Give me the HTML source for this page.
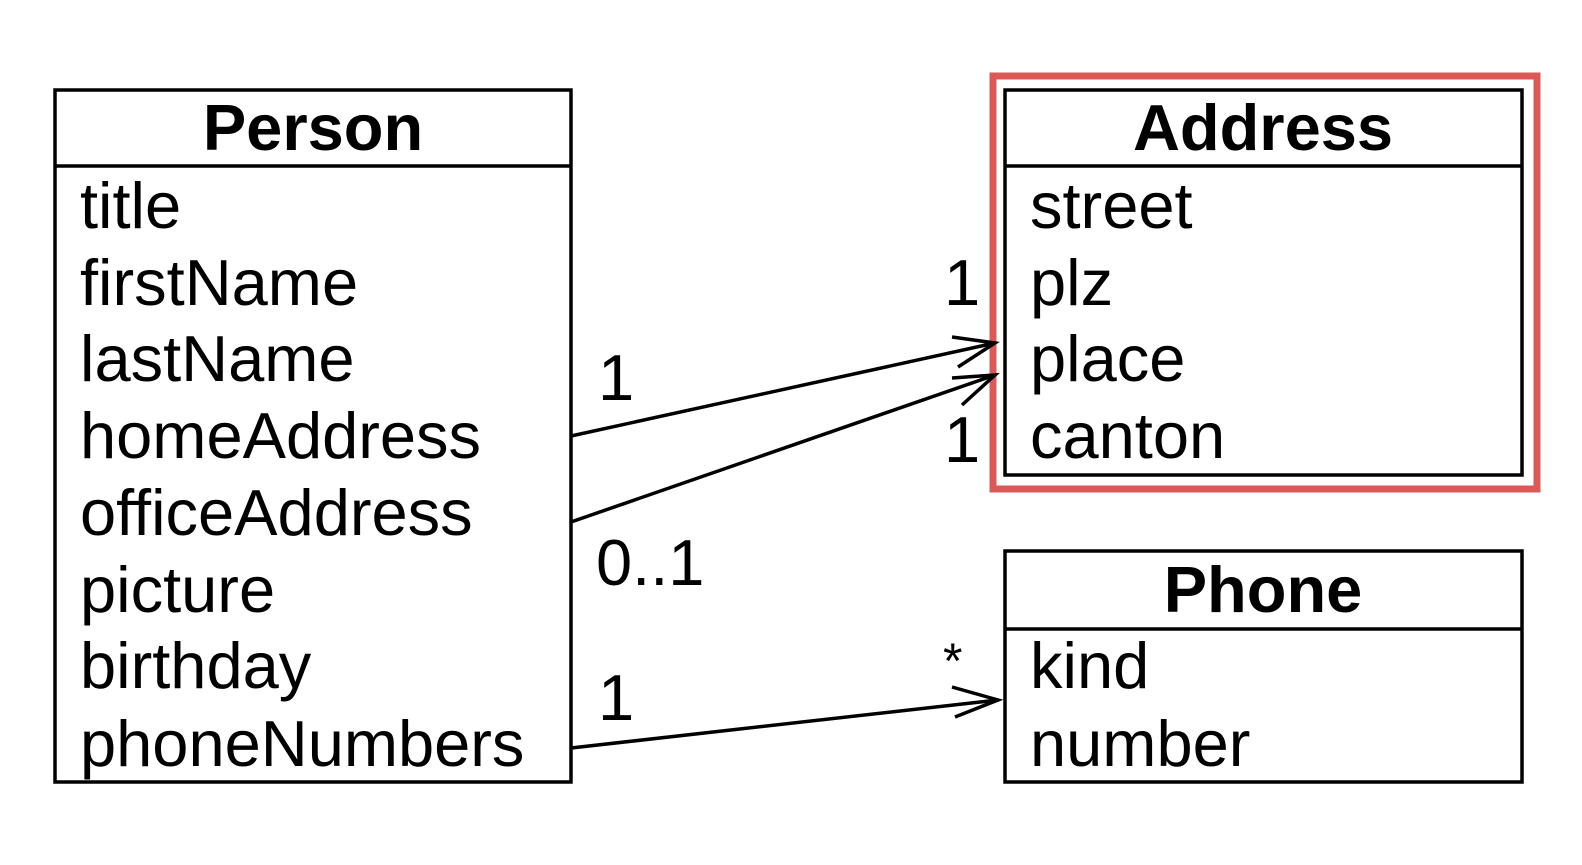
<!DOCTYPE html>
<html><head><meta charset="utf-8"><style>
html,body{margin:0;padding:0;background:#fff}
svg{display:block}
text{font-family:"Liberation Sans",Arial,sans-serif;font-size:65px;fill:#000}
.b{font-weight:bold;text-anchor:middle}
</style></head><body>
<svg width="1582" height="865" viewBox="0 0 1582 865">
<rect x="0" y="0" width="1582" height="865" fill="#fff"/>
<rect x="993" y="76" width="544" height="413" fill="none" stroke="#db5a55" stroke-width="7"/>
<g fill="none" stroke="#000" stroke-width="3.5">
<rect x="55" y="90" width="516" height="692"/><line x1="55" y1="166" x2="571" y2="166"/>
</g>
<text class="b" x="313" y="150">Person</text>
<g>
<text x="80" y="228">title</text><text x="80" y="305">firstName</text><text x="80" y="381">lastName</text>
<text x="80" y="458">homeAddress</text><text x="80" y="535">officeAddress</text><text x="80" y="612">picture</text>
<text x="80" y="688">birthday</text><text x="80" y="766">phoneNumbers</text>
</g>
<g fill="none" stroke="#000" stroke-width="3.5">
<rect x="1005" y="90" width="517" height="385"/><line x1="1005" y1="166" x2="1522" y2="166"/>
</g>
<text class="b" x="1263" y="150">Address</text>
<g>
<text x="1030" y="228">street</text><text x="1030" y="305">plz</text><text x="1030" y="381">place</text><text x="1030" y="458">canton</text>
</g>
<g fill="none" stroke="#000" stroke-width="3.5">
<rect x="1005" y="551" width="517" height="231"/><line x1="1005" y1="629" x2="1522" y2="629"/>
</g>
<text class="b" x="1263" y="612">Phone</text>
<g>
<text x="1030" y="688">kind</text><text x="1030" y="766">number</text>
</g>
<g fill="none" stroke="#000" stroke-width="3.5" stroke-linejoin="miter">
<g>
<line x1="571" y1="436" x2="995" y2="343"/><polyline points="952,337 995,343 958,367"/></g>
<g>
<line x1="571" y1="522" x2="995" y2="375"/><polyline points="952,378 995,375 962,405"/></g>
<g>
<line x1="571" y1="748" x2="998" y2="700"/><polyline points="952,687 998,700 955,717"/></g>
</g>
<g>
<text x="598" y="400">1</text><text x="944" y="305">1</text><text x="944" y="462">1</text>
<text x="596" y="585">0..1</text><text x="943" y="678" style="font-size:50px">*</text><text x="598" y="720">1</text>
</g>
</svg>
</body></html>
